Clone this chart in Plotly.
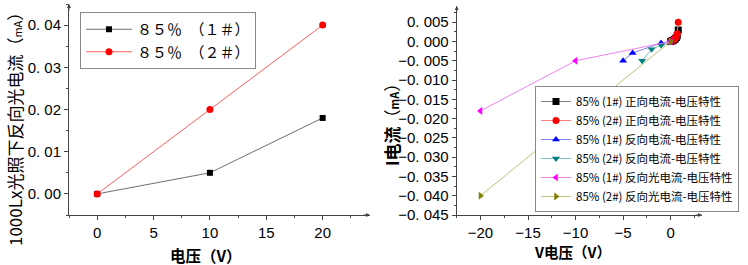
import plotly.graph_objects as go

# ---------------- data ----------------
# left chart: reverse photocurrent under 1000 Lx
left_v = [0, 10, 20]
left_i_1 = [0, 0.005, 0.018]
left_i_2 = [0, 0.02, 0.04]
left_names = ["８５％　（１＃）", "８５％　（２＃）"]

# right chart: I-V characteristics
fwd_v = [0, 0.1, 0.2, 0.3, 0.4, 0.5, 0.6, 0.7, 0.8]
fwd_i_1 = [0, 0.0001, 0.0002, 0.0003, 0.0005, 0.0007, 0.001, 0.0015, 0.003]
fwd_i_2 = [0, 0.0001, 0.0002, 0.0004, 0.0006, 0.0009, 0.0013, 0.002, 0.005]
rev_v_1 = [0, -1, -4, -5]
rev_i_1 = [0, -0.0004, -0.003, -0.005]
rev_v_2 = [0, -1, -2, -3]
rev_i_2 = [0, -0.001, -0.002, -0.005]
photo_v = [0, -10, -20]
photo_i_1 = [0, -0.005, -0.018]
photo_i_2 = [0, -0.02, -0.04]
right_names = [
    "85% (1#) 正向电流-电压特性",
    "85% (2#) 正向电流-电压特性",
    "85% (1#) 反向电流-电压特性",
    "85% (2#) 反向电流-电压特性",
    "85% (1#) 反向光电流-电压特性",
    "85% (2#) 反向光电流-电压特性",
]

left_yticks = [0, 0.01, 0.02, 0.03, 0.04]
left_yticktext = ["0. 00", "0. 01", "0. 02", "0. 03", "0. 04"]
right_yticks = [0.005, 0, -0.005, -0.01, -0.015, -0.02, -0.025, -0.03, -0.035, -0.04, -0.045]
right_yticktext = ["0. 005", "0. 000", "−0. 005", "−0. 010", "−0. 015", "−0. 020",
                   "−0. 025", "−0. 030", "−0. 035", "−0. 040", "−0. 045"]

CJK = "Noto Sans CJK SC"
NUM = "Liberation Sans, Arial"

fig = go.Figure()

# left traces
fig.add_trace(go.Scatter(x=left_v, y=left_i_1, name=left_names[0], mode="lines+markers",
                         line=dict(color="#707070", width=1),
                         marker=dict(symbol="square", size=6, color="black"),
                         xaxis="x", yaxis="y", legend="legend"))
fig.add_trace(go.Scatter(x=left_v, y=left_i_2, name=left_names[1], mode="lines+markers",
                         line=dict(color="#ff6060", width=1),
                         marker=dict(symbol="circle", size=7, color="red"),
                         xaxis="x", yaxis="y", legend="legend"))

# right traces
right_specs = [
    (fwd_v, fwd_i_1, "square", "black", "#808080"),
    (fwd_v, fwd_i_2, "circle", "red", "#ff8080"),
    (rev_v_1, rev_i_1, "triangle-up", "blue", "#8080ff"),
    (rev_v_2, rev_i_2, "triangle-down", "#008080", "#80c0c0"),
    (photo_v, photo_i_1, "triangle-left", "magenta", "#ee82ee"),
    (photo_v, photo_i_2, "triangle-right", "#808000", "#c0c080"),
]
for (xs, ys, sym, mc, lc), nm in zip(right_specs, right_names):
    fig.add_trace(go.Scatter(x=xs, y=ys, name=nm, mode="lines+markers",
                             line=dict(color=lc, width=1),
                             marker=dict(symbol=sym, size=7, color=mc),
                             xaxis="x2", yaxis="y2", legend="legend2"))

W, H = 748, 265
def px(x):
    return x / W
def py(y):
    return (H - y) / H

axis_common = dict(showgrid=False, zeroline=False, showline=True, linecolor="#444",
                   linewidth=1, ticks="outside", ticklen=4, tickcolor="#444",
                   automargin=False,
                   tickfont=dict(family=NUM, size=15, color="black"))

fig.update_layout(
    template="none",
    width=W, height=H,
    margin=dict(l=0, r=0, t=0, b=0, autoexpand=False),
    paper_bgcolor="white", plot_bgcolor="white",
    xaxis=dict(domain=[px(69), px(370)], range=[-2.5, 24.2], anchor="y",
               tick0=0, dtick=5,
               minor=dict(dtick=2.5, tick0=0, ticklen=2, ticks="outside", tickcolor="#444"),
               **axis_common),
    yaxis=dict(domain=[py(215), py(4)], range=[-0.005, 0.045], anchor="x",
               tickvals=left_yticks, ticktext=left_yticktext,
               minor=dict(dtick=0.005, tick0=0, ticklen=2, ticks="outside", tickcolor="#444"),
               **axis_common),
    xaxis2=dict(domain=[px(456.7), px(702)], range=[-22.5, 3.3], anchor="y2",
                tick0=0, dtick=5,
                minor=dict(dtick=2.5, tick0=0, ticklen=2, ticks="outside", tickcolor="#444"),
                **axis_common),
    yaxis2=dict(domain=[py(215), py(6)], range=[-0.045, 0.0092], anchor="x2",
                tickvals=right_yticks, ticktext=right_yticktext,
                minor=dict(dtick=0.0025, tick0=0, ticklen=2, ticks="outside", tickcolor="#444"),
                **axis_common),
    legend=dict(x=px(80), y=py(12), xanchor="left", yanchor="top",
                bgcolor="white", bordercolor="#888", borderwidth=1,
                font=dict(family=CJK, size=15, color="black"),
                itemwidth=46),
    legend2=dict(x=px(535), y=py(212), xanchor="left", yanchor="bottom",
                 bgcolor="white", bordercolor="#888", borderwidth=1,
                 font=dict(family=CJK, size=11.5, color="black"),
                 itemwidth=30, tracegroupgap=0),
    showlegend=True,
)

annotations = [
    dict(text="<b>电压（V）</b>", x=px(206), y=py(255), xref="paper", yref="paper",
         xanchor="center", yanchor="middle",
         showarrow=False, font=dict(family=CJK, size=15.5, color="black")),
    dict(text="<b>V电压（V）</b>", x=px(572), y=py(251), xref="paper", yref="paper",
         xanchor="center", yanchor="middle",
         showarrow=False, font=dict(family=CJK, size=14.5, color="black")),
    dict(text="1000Lx光照下反向光电流（<span style='font-size:11px'>mA</span>）",
         x=px(14), y=py(125), xref="paper", yref="paper", textangle=-90,
         xanchor="center", yanchor="middle",
         showarrow=False, font=dict(family=CJK, size=17, color="black")),
    dict(text="<b>I电流</b>（<span style='font-size:11px'><b>mA</b></span>）",
         x=px(391), y=py(121), xref="paper", yref="paper", textangle=-90,
         xanchor="center", yanchor="middle",
         showarrow=False, font=dict(family=CJK, size=17, color="black")),
]
# axis-end arrows
for (xa, ya, dx, dy) in [(px(370), py(215), -8, 0), (px(69), py(4), 0, 8),
                         (px(702), py(215), -8, 0), (px(456.7), py(6), 0, 8)]:
    annotations.append(dict(x=xa, y=ya, xref="paper", yref="paper", ax=dx, ay=dy,
                            axref="pixel", ayref="pixel", text="", showarrow=True,
                            arrowhead=2, arrowsize=0.8, arrowwidth=1, arrowcolor="#444"))
fig.update_layout(annotations=annotations)

fig.write_html("out.html", config={"displayModeBar": False},
               post_script="document.body.style.margin='0';")
